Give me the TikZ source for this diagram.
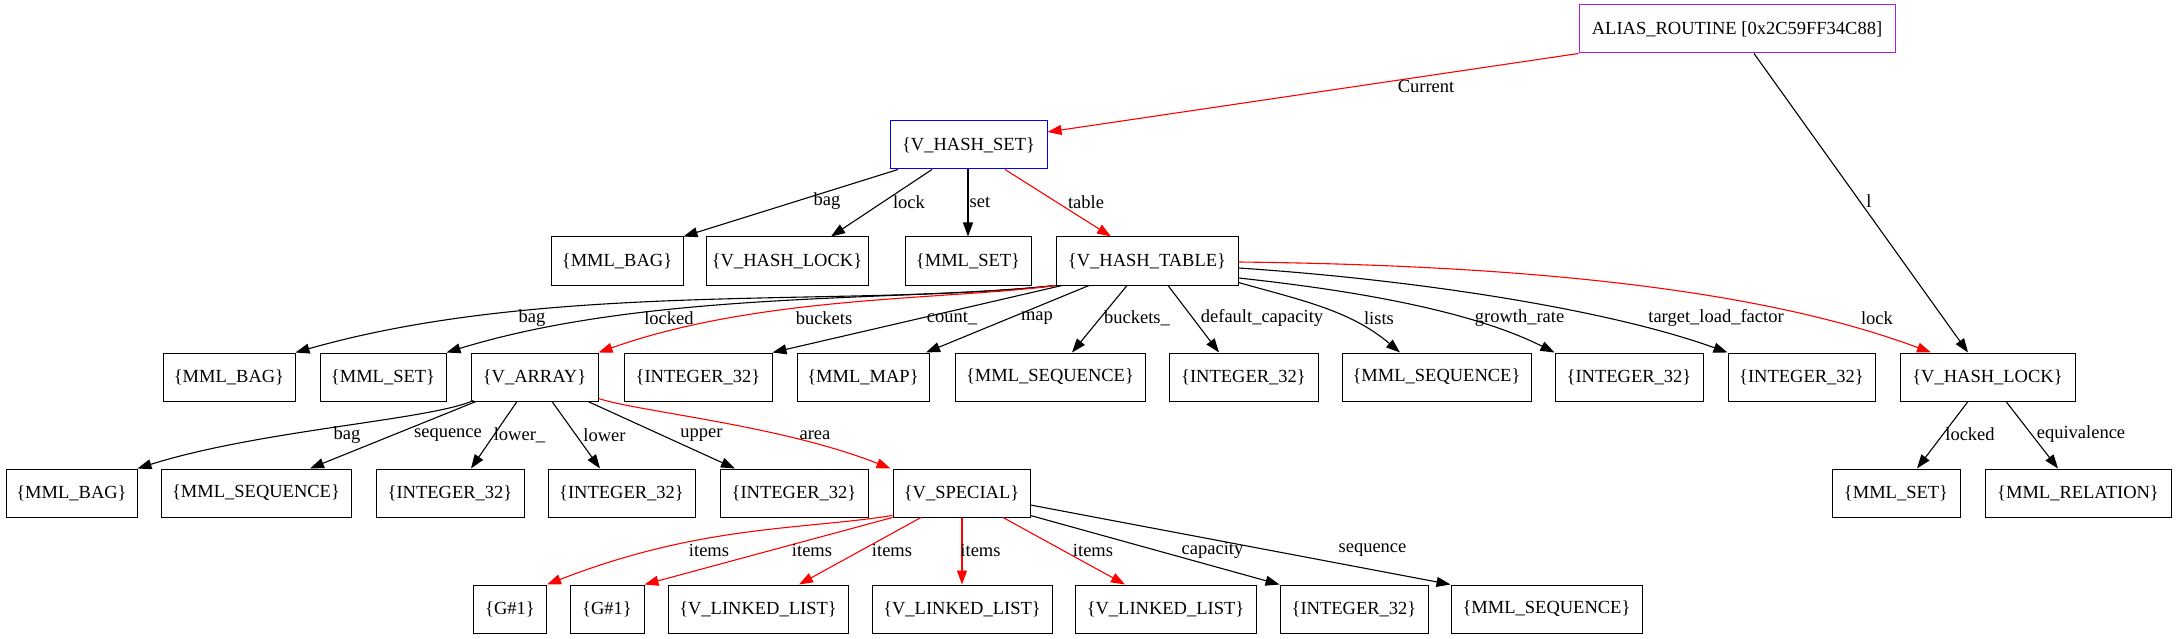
\documentclass[tikz,border=0pt]{standalone}
\usepackage{fontspec}
\setmainfont{Liberation Serif}
\usetikzlibrary{arrows.meta}
\definecolor{gvpurple}{HTML}{A020F0}
\begin{document}
\begin{tikzpicture}[x=1pt,y=-1pt,
  every node/.style={font=\fontsize{18.5}{20}\selectfont},
  box/.style={draw, line width=1pt, minimum height=48pt, inner sep=0pt},
  lbl/.style={inner sep=0pt},
  edge/.style={line width=1.1pt, -{Triangle[length=14pt,width=10pt]}},
  redge/.style={edge, red}]
\useasboundingbox (0,0) rectangle (2177,639);
% row 1
\node[box, draw=gvpurple, minimum width=316pt] (alias) at (1737,29) {ALIAS\_ROUTINE [0x2C59FF34C88]};
\node[box, draw=blue, minimum width=157pt] (hashset) at (968.5,145) {\{V\_HASH\_SET\}};
% row 2
\node[box, minimum width=132pt] (bag1) at (617,261) {\{MML\_BAG\}};
\node[box, minimum width=162pt] (hlock1) at (787,261) {\{V\_HASH\_LOCK\}};
\node[box, minimum width=126pt] (set1) at (968,261) {\{MML\_SET\}};
\node[box, minimum width=182pt] (htable) at (1147,261) {\{V\_HASH\_TABLE\}};
% row 3
\node[box, minimum width=132pt] (bag2) at (229,377) {\{MML\_BAG\}};
\node[box, minimum width=126pt] (set2) at (383,377) {\{MML\_SET\}};
\node[box, minimum width=127pt] (varray) at (534.5,377) {\{V\_ARRAY\}};
\node[box, minimum width=148pt] (int1) at (698,377) {\{INTEGER\_32\}};
\node[box, minimum width=132pt] (map) at (863,377) {\{MML\_MAP\}};
\node[box, minimum width=190pt] (seq1) at (1050,377) {\{MML\_SEQUENCE\}};
\node[box, minimum width=149pt] (int2) at (1243.5,377) {\{INTEGER\_32\}};
\node[box, minimum width=189pt] (seq2) at (1436.5,377) {\{MML\_SEQUENCE\}};
\node[box, minimum width=148pt] (int3) at (1629,377) {\{INTEGER\_32\}};
\node[box, minimum width=147pt] (int4) at (1801.5,377) {\{INTEGER\_32\}};
\node[box, minimum width=175pt] (hlock2) at (1987.5,377) {\{V\_HASH\_LOCK\}};
% row 4
\node[box, minimum width=131pt] (bag3) at (71.5,493) {\{MML\_BAG\}};
\node[box, minimum width=190pt] (seq3) at (256,493) {\{MML\_SEQUENCE\}};
\node[box, minimum width=148pt] (int5) at (450,493) {\{INTEGER\_32\}};
\node[box, minimum width=147pt] (int6) at (621.5,493) {\{INTEGER\_32\}};
\node[box, minimum width=148pt] (int7) at (794,493) {\{INTEGER\_32\}};
\node[box, minimum width=137pt] (special) at (961.5,493) {\{V\_SPECIAL\}};
\node[box, minimum width=128pt] (set3) at (1896,493) {\{MML\_SET\}};
\node[box, minimum width=186pt] (rel) at (2078,493) {\{MML\_RELATION\}};
% row 5
\node[box, minimum width=73pt] (g1) at (510,609) {\{G\#1\}};
\node[box, minimum width=74pt] (g2) at (607,609) {\{G\#1\}};
\node[box, minimum width=180pt] (ll1) at (758,609) {\{V\_LINKED\_LIST\}};
\node[box, minimum width=180pt] (ll2) at (962,609) {\{V\_LINKED\_LIST\}};
\node[box, minimum width=181pt] (ll3) at (1165.5,609) {\{V\_LINKED\_LIST\}};
\node[box, minimum width=148pt] (int8) at (1354,609) {\{INTEGER\_32\}};
\node[box, minimum width=191pt] (seq4) at (1546.5,609) {\{MML\_SEQUENCE\}};

% alias edges
\draw[redge] (alias.south west) -- ([yshift=13pt]hashset.east);
\node[lbl] (lcur) at (1426,86) {Current};
\draw[edge] ([xshift=17pt]alias.south) -- ([xshift=-19.5pt]hlock2.north);
\node[lbl] (ll) at (1869,201) {l};

% hash set edges
\draw[edge] ([xshift=-70.5pt]hashset.south) -- (bag1.north east);
\node[lbl] (lbag1) at (827,201) {bag};
\draw[edge] ([xshift=-36.5pt]hashset.south) -- ([xshift=44pt]hlock1.north);
\node[lbl] (llock1) at (909,202) {lock};
\draw[edge] ([xshift=-0.5pt]hashset.south) -- (set1.north);
\node[lbl] (lset1) at (980,202) {set};
\draw[redge] ([xshift=36.5pt]hashset.south) -- ([xshift=-36pt]htable.north);
\node[lbl] (ltable) at (1086,202) {table};

% hash table edges
\draw[edge] (htable.south west) .. controls (850,308) and (550,280) .. (bag2.north east);
\node[lbl] (lbag2) at (532,318) {bag};
\draw[edge] (htable.south west) .. controls (900,302) and (650,290) .. (set2.north east);
\node[lbl] (llocked2) at (669,318) {locked};
\draw[redge] (htable.south west) .. controls (950,300) and (760,295) .. (varray.north east);
\node[lbl] (lbuckets) at (824,318) {buckets};
\draw[edge] ([xshift=-85pt]htable.south) -- (int1.north east);
\node[lbl] (lcount) at (952,318) {count\_};
\draw[edge] ([xshift=-58pt]htable.south) -- ([xshift=63pt]map.north);
\node[lbl] (lmap) at (1037,318) {map};
\draw[edge] ([xshift=-20pt]htable.south) -- ([xshift=22pt]seq1.north);
\node[lbl] (lbuckets2) at (1137,318) {buckets\_};
\draw[edge] ([xshift=21pt]htable.south) -- ([xshift=-24.5pt]int2.north);
\node[lbl] (ldefcap) at (1262,318) {default\_capacity};
\draw[edge] ([yshift=3pt]htable.south east) .. controls (1300,300) and (1350,310) .. ([xshift=-36.5pt]seq2.north);
\node[lbl] (llists) at (1379,318) {lists};
\draw[edge] ([yshift=-17pt]htable.east) .. controls (1350,290) and (1470,310) .. (int3.north west);
\node[lbl] (lgrowth) at (1519.6,318) {growth\_rate};
\draw[edge] ([yshift=-7pt]htable.east) .. controls (1420,280) and (1610,310) .. (int4.north west);
\node[lbl] (ltarget) at (1716,318) {target\_load\_factor};
\draw[redge] ([yshift=-1pt]htable.east) .. controls (1500,265) and (1750,285) .. ([xshift=-56.5pt]hlock2.north);
\node[lbl] (llock2) at (1877,318) {lock};

% hash lock edges
\draw[edge] ([xshift=-19.5pt]hlock2.south) -- ([xshift=21pt]set3.north);
\node[lbl] (llocked3) at (1970,434) {locked};
\draw[edge] ([xshift=18.5pt]hlock2.south) -- ([xshift=-20pt]rel.north);
\node[lbl] (lequiv) at (2081,434) {equivalence};

% array edges
\draw[edge] ([xshift=3pt,yshift=1pt]varray.south west) .. controls (430,420) and (260,430) .. (bag3.north east);
\node[lbl] (lbag3) at (347,435) {bag};
\draw[edge] ([xshift=-58.5pt]varray.south) -- ([xshift=54pt]seq3.north);
\node[lbl] (lseq3) at (448,435) {sequence};
\draw[edge] ([xshift=-17.5pt]varray.south) -- ([xshift=21pt]int5.north);
\node[lbl] (llower1) at (519.5,435) {lower\_};
\draw[edge] ([xshift=17.5pt]varray.south) -- ([xshift=-21.5pt]int6.north);
\node[lbl] (llower2) at (604.5,435) {lower};
\draw[edge] ([xshift=53.5pt]varray.south) -- ([xshift=-59pt]int7.north);
\node[lbl] (lupper) at (701.5,435) {upper};
\draw[redge] ([yshift=3pt]varray.south east) .. controls (640,412) and (780,425) .. ([xshift=-2pt]special.north west);
\node[lbl] (larea) at (815,435) {area};

% special edges
\draw[redge] ([yshift=2pt]special.south west) .. controls (800,530) and (700,525) .. (g1.north east);
\node[lbl] (li1) at (709,550) {items};
\draw[redge] (special.south west) -- (g2.north east);
\node[lbl] (li2) at (812,550) {items};
\draw[redge] ([xshift=-40.5pt]special.south) -- ([xshift=41pt]ll1.north);
\node[lbl] (li3) at (892,550) {items};
\draw[redge] ([xshift=0.5pt]special.south) -- (ll2.north);
\node[lbl] (li4) at (980.5,550) {items};
\draw[redge] ([xshift=41.5pt]special.south) -- ([xshift=-40.5pt]ll3.north);
\node[lbl] (li5) at (1093,550) {items};
\draw[edge] ([yshift=2pt]special.south east) -- (int8.north west);
\node[lbl] (lcap) at (1212.5,550) {capacity};
\draw[edge] ([yshift=-12pt]special.east) -- (seq4.north west);
\node[lbl] (lseq4) at (1372.5,550) {sequence};
\end{tikzpicture}
\end{document}
